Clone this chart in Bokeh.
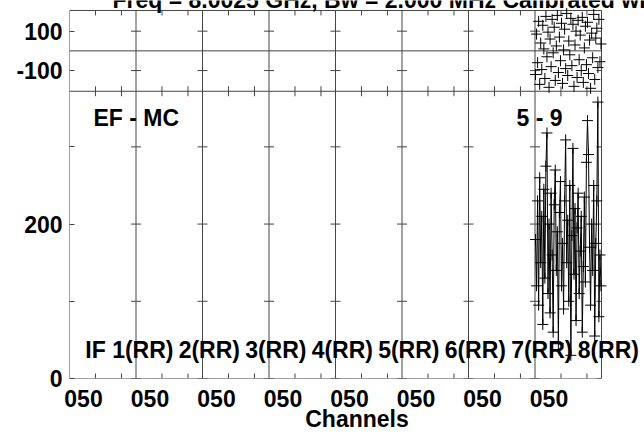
from bokeh.plotting import figure
from bokeh.models import Range1d, FixedTicker, Label
from bokeh.embed import file_html
from bokeh.resources import INLINE

# ---------------- data ----------------
N_IF = 8
N_CHAN = 64
DATA_IF = 8
if_labels = ["IF 1(RR)", "2(RR)", "3(RR)", "4(RR)", "5(RR)", "6(RR)", "7(RR)", "8(RR)"]
chan_tick_label = "050"
chan_minor_ticks = [25, 50]
amp_ticks = [0, 100, 200, 300]
amp_tick_labels = {0: "0", 200: "200"}
phase_ticks = [-100, 100]
phase_tick_labels = {-100: "-100", 100: "100"}

amplitude = [180, 120, 230, 95, 260, 150, 210, 70,
             245, 130, 275, 318, 110, 200, 85, 240,
             160, 60, 225, 270, 140, 190, 45, 215,
             255, 120, 175, 90, 230, 309, 150, 205,
             100, 250, 30, 185, 298, 135, 220, 75,
             195, 240, 110, 165, 210, 60, 145, 235,
             125, 280, 334, 290, 170, 95, 200, 140,
             250, 55, 175, 230, 358, 80, 160, 120]

phase = [-120, 85, -60, 150, -170, 40, -95, 130,
         10, -140, 175, -30, 95, -185, 60, -80,
         160, -10, 120, -150, 25, 180, -110, 70,
         -50, 140, -165, 5, 110, -90, 190, -125,
         50, -20, 165, -75, 135, -180, 30, 100,
         -135, 155, -45, 80, -100, 170, -160, 15,
         125, -70, 145, -115, 55, -190, 90, -35,
         185, -145, 65, 115, -85, 160, -55, 35]

baseline_text = "EF - MC"
source_text = "5 - 9"
title_text = "Freq = 8.0025 GHz, Bw = 2.000 MHz  Calibrated with CL # 2"
x_title = "Channels"

# ---------------- layout (pixels) ----------------
W, H = 644, 434
LEFT, BOTTOM = 69, 55          # canvas borders holding the axes
VIS_RIGHT = 601                # right edge of the drawn box
VIS_TOP = 10                   # top edge of the drawn box
SPLIT_PX = 91                  # boundary between phase and amplitude panels
AMP_MAX = 372.0
PH_LIM = 205.0
TICK = 5
LABEL_SHIFT = 8                # label anchor sits this far above the baseline
FONT = "Liberation Sans"
FS = "23px"
FRAME_COL = "#444444"

frame_bottom = H - BOTTOM
x_per_px = (N_IF * N_CHAN) / (VIS_RIGHT - LEFT)
amp_per_px = AMP_MAX / (frame_bottom - SPLIT_PX)
deg_per_px = 2 * PH_LIM / (SPLIT_PX - VIS_TOP)


def sx(px):
    return (px - LEFT) * x_per_px


def sy(py):
    return (frame_bottom - py) * amp_per_px


def ph2amp(v):
    return round(sy(VIS_TOP + (PH_LIM - v) / deg_per_px), 3)


X_END = N_IF * N_CHAN
Y_TOP = sy(VIS_TOP)

p = figure(width=W, height=H, output_backend="svg", toolbar_location=None,
           x_range=Range1d(0, sx(W)), y_range=Range1d(0, sy(0)),
           min_border_left=LEFT, min_border_right=0,
           min_border_top=0, min_border_bottom=BOTTOM)
p.styles = {"position": "absolute", "left": "0px", "top": "0px"}
p.extra_y_ranges = {"phase": Range1d(PH_LIM - (frame_bottom - VIS_TOP) * deg_per_px,
                                     PH_LIM + VIS_TOP * deg_per_px)}
p.grid.visible = False
p.outline_line_color = None
p.background_fill_color = "white"
p.border_fill_color = "white"

# x axis: labels only
xt = [i * N_CHAN + 13.5 for i in range(N_IF)]
p.xaxis.ticker = FixedTicker(ticks=xt, minor_ticks=[])
p.xaxis.major_label_overrides = {t: chan_tick_label for t in xt}
p.xaxis.axis_line_color = None
p.xaxis.major_tick_line_color = None
p.xaxis.minor_tick_line_color = None
p.xaxis.major_tick_in = 0
p.xaxis.major_tick_out = 0
p.xaxis.minor_tick_in = 0
p.xaxis.minor_tick_out = 0
p.xaxis.major_label_standoff = 11
p.xaxis.major_label_text_font = FONT
p.xaxis.major_label_text_font_style = "bold"
p.xaxis.major_label_text_font_size = FS
p.xaxis.major_label_text_color = "black"
p.xaxis.axis_label = x_title
p.xaxis.axis_label_standoff = -4
p.xaxis.axis_label_text_font = FONT
p.xaxis.axis_label_text_font_style = "bold"
p.xaxis.axis_label_text_font_size = FS
p.xaxis.axis_label_text_color = "black"
p.xaxis.axis_label_text_align = "center"

# y axis: amplitude ticks + phase ticks
ph_pos = [ph2amp(v) for v in phase_ticks]
yt = amp_ticks + ph_pos
overrides = {t: amp_tick_labels.get(t, "") for t in amp_ticks}
for v, pos in zip(phase_ticks, ph_pos):
    overrides[pos] = phase_tick_labels[v]
p.yaxis.ticker = FixedTicker(ticks=yt, minor_ticks=[])
p.yaxis.major_label_overrides = overrides
p.yaxis.axis_line_color = None
p.yaxis.major_tick_in = TICK
p.yaxis.major_tick_out = 0
p.yaxis.minor_tick_in = 0
p.yaxis.minor_tick_out = 0
p.yaxis.major_tick_line_color = FRAME_COL
p.yaxis.minor_tick_line_color = None
p.yaxis.major_label_standoff = 7
p.yaxis.major_label_text_font = FONT
p.yaxis.major_label_text_font_style = "bold"
p.yaxis.major_label_text_font_size = FS
p.yaxis.major_label_text_color = "black"

# box, panel boundaries and separators
x0s, y0s, x1s, y1s = [], [], [], []
for i in range(N_IF + 1):
    x0s.append(i * N_CHAN); y0s.append(0); x1s.append(i * N_CHAN); y1s.append(Y_TOP)
for lvl in (0, AMP_MAX, Y_TOP, ph2amp(0)):
    x0s.append(0); y0s.append(lvl); x1s.append(X_END); y1s.append(lvl)
p.segment(x0s, y0s, x1s, y1s, line_color=FRAME_COL, line_width=1)

# ticks on the boundaries and along the panel edges
dx = TICK * x_per_px
dy = TICK * amp_per_px
tx0, ty0, tx1, ty1 = [], [], [], []
for i in range(1, N_IF + 1):
    xb = i * N_CHAN
    for t in amp_ticks + ph_pos:
        tx0.append(xb - dx); ty0.append(t)
        tx1.append(xb + dx if i < N_IF else xb); ty1.append(t)
for i in range(N_IF):
    for m in chan_minor_ticks:
        xm = i * N_CHAN + m
        for a, b in ((0, dy), (AMP_MAX - dy, AMP_MAX + dy), (Y_TOP - dy, Y_TOP)):
            tx0.append(xm); ty0.append(a); tx1.append(xm); ty1.append(b)
p.segment(tx0, ty0, tx1, ty1, line_color=FRAME_COL, line_width=1)

# data (IF 8 only)
xs = [(DATA_IF - 1) * N_CHAN + i + 0.5 for i in range(len(amplitude))]
p.line(xs, amplitude, line_color="black", line_width=1)
p.scatter(xs, amplitude, marker="cross", size=11, line_color="black", line_width=1)
p.scatter(xs, phase, marker="cross", size=11, line_color="black", line_width=1,
          y_range_name="phase")


def lab(text, x, baseline_px, align="left"):
    p.add_layout(Label(x=x, y=sy(baseline_px - LABEL_SHIFT), text=text,
                       text_align=align, text_baseline="alphabetic",
                       text_font=FONT, text_font_style="bold",
                       text_font_size=FS, text_color="black"))


lab(baseline_text, sx(93), 126)
lab(source_text, sx(562), 126, align="right")
for i, t in enumerate(if_labels):
    lab(t, i * N_CHAN + 104 * x_per_px, 358, align="right")
lab(title_text, sx(112), 7.5)

open("out.html", "w").write(file_html(p, INLINE))
